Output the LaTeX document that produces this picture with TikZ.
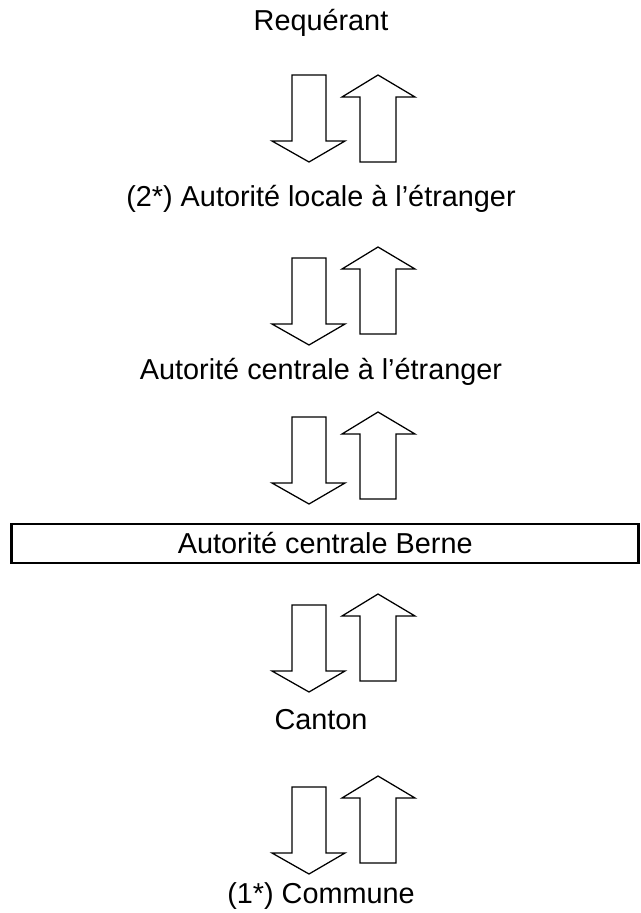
\documentclass[tikz,border=0pt]{standalone}
\usepackage{fontspec}
\setmainfont{Liberation Sans}
\usetikzlibrary{calc}
\tikzset{
	flow text/.style={font=\fontsize{20.5}{24}\selectfont, anchor=base},
	block arrow/.style={draw, line width=0.9pt, line join=miter, fill=white}
}
\tikzstyle{framed}=[draw, line width=2.1pt, minimum width=15.67cm, minimum height=0.975cm, text height=0.52cm, text depth=0pt, inner sep=0pt]
\newcommand{\downUpPair}[2]{
	\draw[block arrow, shift={(0,-#1)}] (292,0) -- (326,0) -- (326,-66) -- (345,-66) -- (309,-87) -- (272,-66) -- (292,-66) -- cycle;
	\draw[block arrow, shift={(0,-#2)}] (378,0) -- (415,-22) -- (396,-22) -- (396,-87) -- (360,-87) -- (360,-22) -- (342,-22) -- cycle;
}

\begin{document}
\begin{tikzpicture}[x=0.025cm, y=0.025cm]
	\useasboundingbox (0,0) rectangle (640,-913);
	\node[flow text] (req) at (321,-31) {Requérant};
	\downUpPair{75}{75}
	\node[flow text] (locale) at (321,-206) {(2*) Autorité locale à l’étranger};
	\downUpPair{258}{247}
	\node[flow text] (centralext) at (321,-379) {Autorité centrale à l’étranger};
	\downUpPair{417}{412}
	\node[framed, font=\fontsize{20.5}{24}\selectfont] (berne) at (325.2,-543.5) {Autorité centrale Berne};
	\downUpPair{605}{594}
	\node[flow text] (canton) at (321,-729) {Canton};
	\downUpPair{787}{776}
	\node[flow text] (commune) at (321,-903) {(1*) Commune};
\end{tikzpicture}
\end{document}
